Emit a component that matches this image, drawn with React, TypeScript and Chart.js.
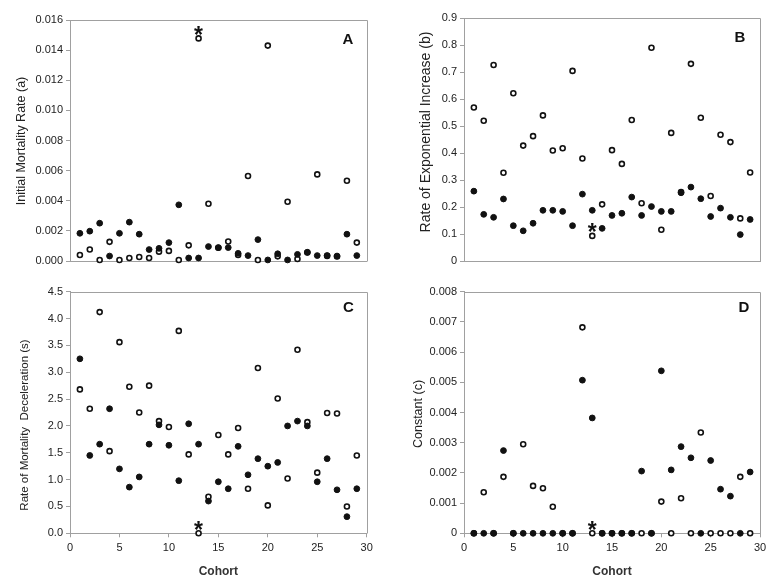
import React, { useEffect, useRef } from "react";
import { Chart, registerables } from "chart.js";

Chart.register(...registerables);

// ---------- data ----------
const cohorts = [1, 2, 3, 4, 5, 6, 7, 8, 9, 10, 11, 12, 13, 14, 15, 16, 17, 18, 19, 20, 21, 22, 23, 24, 25, 26, 27, 28, 29];

const aFilled = [0.00184, 0.00198, 0.00251, 0.00033, 0.00184, 0.00258, 0.00178, 0.00076, 0.00084, 0.00122, 0.00373, 0.0002, 0.0002, 0.00096, 0.00089, 0.00089, 0.00051, 0.00036, 0.00142, 0.00007, 0.00048, 0.00007, 0.00044, 0.00058, 0.00036, 0.00036, 0.00033, 0.00178, 0.00036];
const aOpen = [0.0004, 0.00076, 0.00007, 0.00127, 0.00007, 0.0002, 0.00027, 0.0002, 0.00062, 0.00067, 0.00007, 0.00104, 0.01478, 0.0038, 0.00088, 0.00129, 0.0004, 0.00564, 0.00007, 0.0143, 0.00031, 0.00393, 0.00013, 0.00056, 0.00575, 0.00034, 0.0003, 0.00533, 0.00122];

const bFilled = [0.259, 0.173, 0.162, 0.23, 0.131, 0.112, 0.14, 0.188, 0.188, 0.184, 0.131, 0.248, 0.188, 0.121, 0.169, 0.177, 0.237, 0.169, 0.202, 0.184, 0.184, 0.253, 0.274, 0.231, 0.165, 0.196, 0.162, 0.098, 0.154];
const bOpen = [0.569, 0.52, 0.727, 0.327, 0.622, 0.428, 0.463, 0.54, 0.41, 0.418, 0.705, 0.38, 0.093, 0.21, 0.411, 0.36, 0.523, 0.214, 0.791, 0.116, 0.475, 0.256, 0.731, 0.531, 0.241, 0.468, 0.441, 0.158, 0.328];

const cFilled = [3.25, 1.45, 1.66, 2.32, 1.2, 0.86, 1.05, 1.66, 2.02, 1.64, 0.98, 2.04, 1.66, 0.6, 0.96, 0.83, 1.62, 1.09, 1.39, 1.25, 1.32, 2.0, 2.09, 2.0, 0.96, 1.39, 0.81, 0.31, 0.83];
const cOpen = [2.68, 2.32, 4.12, 1.53, 3.56, 2.73, 2.25, 2.75, 2.09, 1.98, 3.77, 1.47, 0.0, 0.68, 1.83, 1.47, 1.96, 0.83, 3.08, 0.52, 2.51, 1.02, 3.42, 2.07, 1.13, 2.24, 2.23, 0.5, 1.45];

const dFilled = [0, 0, 0, 0.00274, 0, 0, 0, 0, 0, 0, 0, 0.00507, 0.00382, 0, 0, 0, 0, 0.00206, 0, 0.00538, 0.0021, 0.00287, 0.0025, 0, 0.00241, 0.00146, 0.00123, 0, 0.00203];
const dOpen = [0, 0.00136, 0, 0.00187, 0, 0.00295, 0.00157, 0.00149, 0.00088, 0, 0, 0.00682, 0, 0, 0, 0, 0, 0, 0, 0.00105, 0, 0.00116, 0, 0.00334, 0, 0, 0, 0.00187, 0];

const yTicksA = ["0.000", "0.002", "0.004", "0.006", "0.008", "0.010", "0.012", "0.014", "0.016"];
const yTicksB = ["0", "0.1", "0.2", "0.3", "0.4", "0.5", "0.6", "0.7", "0.8", "0.9"];
const yTicksC = ["0.0", "0.5", "1.0", "1.5", "2.0", "2.5", "3.0", "3.5", "4.0", "4.5"];
const yTicksD = ["0", "0.001", "0.002", "0.003", "0.004", "0.005", "0.006", "0.007", "0.008"];
const xTicks = ["0", "5", "10", "15", "20", "25", "30"];

const markedCohortIndex = 12; // cohort 13 carries the asterisk

// ---------- styling ----------
const FONT = "'Liberation Sans', Arial, Helvetica, sans-serif";
const AXIS_GREY = "#a0a0a0";
const TEXT = "#222";

type Panel = {
  letter: string;
  title: string;
  filled: number[];
  open: number[];
  yMin: number;
  yMax: number;
  yStep: number;
  yLabels: string[];
  showX: boolean;
  left: number;
  top: number;
  width: number;
  height: number;
  padTop: number;
  padRight: number;
  padBottom: number;
  yWidth: number;
  xHeight: number;
  titleX: number;
  titleY: number;
  titleSize: number;
  letterDx: number;
  letterDy: number;
};

const panels: Panel[] = [
  {
    letter: "A", title: "Initial Mortality Rate (a)", filled: aFilled, open: aOpen,
    yMin: 0, yMax: 0.016, yStep: 0.002, yLabels: yTicksA, showX: false,
    left: 0, top: 0, width: 390, height: 280, padTop: 20, padRight: 23.3, padBottom: 19,
    yWidth: 70, xHeight: 0, titleX: 22, titleY: 141, titleSize: 12.5, letterDx: 18.7, letterDy: 20,
  },
  {
    letter: "B", title: "Rate of Exponential Increase (b)", filled: bFilled, open: bOpen,
    yMin: 0, yMax: 0.9, yStep: 0.1, yLabels: yTicksB, showX: false,
    left: 390, top: 0, width: 390, height: 280, padTop: 18.3, padRight: 20, padBottom: 19,
    yWidth: 74, xHeight: 0, titleX: 36.5, titleY: 132, titleSize: 14, letterDx: 20, letterDy: 20,
  },
  {
    letter: "C", title: "Rate of Mortality  Deceleration (s)", filled: cFilled, open: cOpen,
    yMin: 0, yMax: 4.5, yStep: 0.5, yLabels: yTicksC, showX: true,
    left: 0, top: 270, width: 390, height: 318, padTop: 21.7, padRight: 23.3, padBottom: 0,
    yWidth: 70, xHeight: 54.7, titleX: 24.5, titleY: 155, titleSize: 11.5, letterDx: 18.4, letterDy: 16.6,
  },
  {
    letter: "D", title: "Constant (c)", filled: dFilled, open: dOpen,
    yMin: 0, yMax: 0.008, yStep: 0.001, yLabels: yTicksD, showX: true,
    left: 390, top: 270, width: 390, height: 318, padTop: 21.7, padRight: 20, padBottom: 0,
    yWidth: 74, xHeight: 54.7, titleX: 28.5, titleY: 144, titleSize: 12.5, letterDx: 16, letterDy: 16.6,
  },
];

const decorPlugin = {
  id: "decor",
  beforeDatasetsDraw(chart: any, _args: any, opts: any) {
    const { ctx, chartArea } = chart;
    const l = Math.round(chartArea.left) + 0.5;
    const t = Math.round(chartArea.top) + 0.5;
    const r = Math.round(chartArea.right) + 0.5;
    const b = Math.round(chartArea.bottom) + 0.5;
    ctx.save();
    ctx.strokeStyle = AXIS_GREY;
    ctx.lineWidth = 1;
    ctx.beginPath();
    ctx.moveTo(l, t);
    ctx.lineTo(r, t);
    ctx.lineTo(r, b);
    ctx.stroke();
    // y-axis title (rotated)
    ctx.translate(opts.titleX, opts.titleY);
    ctx.rotate(-Math.PI / 2);
    ctx.fillStyle = TEXT;
    ctx.font = `${opts.titleSize}px ${FONT}`;
    ctx.textAlign = "center";
    ctx.textBaseline = "middle";
    ctx.fillText(opts.title, 0, 0);
    ctx.restore();
  },
  afterDatasetsDraw(chart: any, _args: any, opts: any) {
    const { ctx, chartArea } = chart;
    ctx.save();
    // panel letter
    ctx.fillStyle = "#111";
    ctx.font = `bold 15px ${FONT}`;
    ctx.textAlign = "center";
    ctx.textBaseline = "middle";
    ctx.fillText(opts.letter, chartArea.right - opts.letterDx, chartArea.top + opts.letterDy);
    // asterisk above the marked open point
    const meta = chart.getDatasetMeta(1);
    const pt = meta.data[markedCohortIndex];
    if (pt) {
      ctx.font = `bold 23px ${FONT}`;
      ctx.textBaseline = "alphabetic";
      ctx.fillStyle = "#111";
      ctx.fillText("*", pt.x, pt.y + 4.5);
    }
    ctx.restore();
  },
};

function PanelChart({ p }: { p: Panel }) {
  const ref = useRef<HTMLCanvasElement | null>(null);
  useEffect(() => {
    if (!ref.current) return;
    const chart = new Chart(ref.current, {
      type: "scatter",
      data: {
        datasets: [
          {
            label: "filled",
            data: cohorts.map((c, i) => ({ x: c, y: p.filled[i] })),
            backgroundColor: "#111",
            borderColor: "#111",
            borderWidth: 1,
            pointRadius: 2.9,
            clip: false as any,
          },
          {
            label: "open",
            data: cohorts.map((c, i) => ({ x: c, y: p.open[i] })),
            backgroundColor: "#fff",
            borderColor: "#111",
            borderWidth: 1.6,
            pointRadius: 2.5,
            clip: false as any,
          },
        ],
      },
      options: {
        animation: false,
        responsive: false,
        maintainAspectRatio: false,
        events: [],
        layout: { padding: { left: 0, top: p.padTop, right: p.padRight, bottom: p.padBottom } },
        plugins: {
          legend: { display: false },
          tooltip: { enabled: false },
          decor: {
            letter: p.letter,
            letterDx: p.letterDx,
            letterDy: p.letterDy,
            title: p.title,
            titleX: p.titleX,
            titleY: p.titleY,
            titleSize: p.titleSize,
          },
        } as any,
        scales: {
          x: {
            type: "linear",
            position: "bottom",
            min: 0,
            max: 30,
            ticks: {
              display: p.showX,
              stepSize: 5,
              autoSkip: false,
              maxRotation: 0,
              padding: 4,
              color: TEXT,
              font: { family: FONT, size: 11 },
              callback: (_v: any, i: number) => xTicks[i],
            },
            grid: {
              display: true,
              drawOnChartArea: false,
              drawTicks: p.showX,
              tickLength: 4,
              color: AXIS_GREY,
            },
            border: { display: true, color: AXIS_GREY },
            title: {
              display: p.showX,
              text: "Cohort",
              color: "#333",
              font: { family: FONT, size: 12, weight: "bold" },
              padding: { top: 0, bottom: 9 },
            },
            afterFit: (s: any) => {
              s.height = p.xHeight;
            },
          },
          y: {
            type: "linear",
            min: p.yMin,
            max: p.yMax,
            ticks: {
              stepSize: p.yStep,
              autoSkip: false,
              padding: 3,
              color: TEXT,
              font: { family: FONT, size: 11 },
              callback: (_v: any, i: number) => p.yLabels[i],
            },
            grid: {
              display: true,
              drawOnChartArea: false,
              drawTicks: true,
              tickLength: 4,
              color: AXIS_GREY,
            },
            border: { display: true, color: AXIS_GREY },
            title: { display: false },
            afterFit: (s: any) => {
              s.width = p.yWidth;
            },
          },
        },
      } as any,
      plugins: [decorPlugin as any],
    });
    return () => chart.destroy();
  }, [p]);
  return (
    <canvas
      ref={ref}
      width={p.width}
      height={p.height}
      style={{
        position: "absolute",
        left: p.left,
        top: p.top,
        width: p.width,
        height: p.height,
        display: "block",
      }}
    />
  );
}

export default function App() {
  return (
    <div
      style={{
        position: "absolute",
        left: 0,
        top: 0,
        width: 780,
        height: 588,
        background: "#fff",
        overflow: "hidden",
      }}
    >
      {panels.map((p) => (
        <PanelChart key={p.letter} p={p} />
      ))}
    </div>
  );
}
